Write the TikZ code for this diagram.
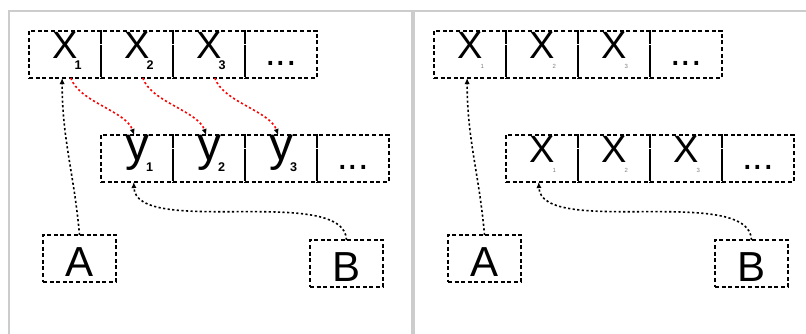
\documentclass[tikz,border=0pt]{standalone}
\usepackage{fontspec}
\setmainfont{Liberation Sans}
\usetikzlibrary{arrows.meta,positioning}
% small index set under the right foot of a letter
\newcommand{\idx}[1]{\rlap{\kern-1.5pt\raisebox{-5.8pt}{\fontsize{6.3}{6.3}\selectfont\bfseries #1}}}
\newcommand{\fadeidx}[1]{\rlap{\kern-1pt\raisebox{-5pt}{\fontsize{3}{3}\selectfont\color{gray}#1}}}
\newcommand{\more}{\raisebox{-3.5pt}{...}}
\tikzset{
    %Define standard arrow tip
    >={Latex[length=3pt,width=2.6pt]},
    %Define style for boxes
    cell/.style={
           draw=black, line width=1pt,
           dash pattern=on 2pt off 1.3pt,
           minimum width=36pt,
           minimum height=23.5pt,
           inner sep=0pt, outer sep=0pt,
           text height=13.5pt, text depth=10pt,
           font=\fontsize{19}{19}\selectfont},
    ycell/.style={
           cell,
           text height=12.5pt, text depth=11pt,
           font=\fontsize{24}{24}\selectfont},
    tag/.style={
           cell,
           minimum width=36.5pt,
           text height=17.5pt, text depth=0pt,
           font=\fontsize{21}{21}\selectfont},
    frame/.style={
           draw=black!20, line width=0.85pt},
    % Define arrow style
    link/.style={
           ->,
           line width=0.8pt,
           dash pattern=on 1.1pt off 1.2pt},
    redlink/.style={
           -{Latex[black,length=3pt,width=2.6pt]},
           line width=0.8pt,
           draw=red,
           dash pattern=on 1.1pt off 1.2pt}
}
\begin{document}
\begin{tikzpicture}
  \useasboundingbox (0,0) rectangle (403pt,-166.5pt);
  \draw[frame] (4.5pt,-170pt) |- (206pt,-5.5pt) -- (206pt,-170pt);
  \draw[frame] (207pt,-170pt) |- (405pt,-5.5pt);

  \begin{scope}
  \node[cell] (l-x1) at (32.5pt,-27.25pt) {X\idx{1}};
  \node[cell, right=0pt of l-x1] (l-x2) {X\idx{2}};
  \node[cell, right=0pt of l-x2] (l-x3) {X\idx{3}};
  \node[cell, right=0pt of l-x3] (l-xd) {\more};
  \node[ycell, below right=28.5pt and 0pt of l-x1] (l-y1) {y\idx{1}};
  \node[ycell, right=0pt of l-y1] (l-y2) {y\idx{2}};
  \node[ycell, right=0pt of l-y2] (l-y3) {y\idx{3}};
  \node[cell, right=0pt of l-y3] (l-yd) {\more};
  \node[tag, below=78.5pt of l-x1, xshift=7.25pt] (l-a) {A};
  \node[tag, below=29pt of l-yd, xshift=-3.25pt] (l-b) {B};

  \path [link] (l-a.north)
    edge[out=95, in=-90] (l-x1.-97);
  \draw [link] (l-b.north)
    .. controls +(-1pt,28pt) and +(1pt,-28pt) .. (l-y1.-98);

  \foreach \i in {1,2,3}
    \draw [redlink] (l-x\i.-76)
      .. controls +(4pt,-12pt) and +(-4pt,12pt) .. (l-y\i.97);
  \end{scope}

  \begin{scope}
  \node[cell] (r-x1) at (235pt,-27.25pt) {X\fadeidx{1}};
  \node[cell, right=0pt of r-x1] (r-x2) {X\fadeidx{2}};
  \node[cell, right=0pt of r-x2] (r-x3) {X\fadeidx{3}};
  \node[cell, right=0pt of r-x3] (r-xd) {\more};
  \node[cell, below right=28.5pt and 0pt of r-x1] (r-y1) {X\fadeidx{1}};
  \node[cell, right=0pt of r-y1] (r-y2) {X\fadeidx{2}};
  \node[cell, right=0pt of r-y2] (r-y3) {X\fadeidx{3}};
  \node[cell, right=0pt of r-y3] (r-yd) {\more};
  \node[tag, below=78.5pt of r-x1, xshift=7.25pt] (r-a) {A};
  \node[tag, below=29pt of r-yd, xshift=-3.25pt] (r-b) {B};

  \path [link] (r-a.north)
    edge[out=95, in=-90] (r-x1.-97);
  \draw [link] (r-b.north)
    .. controls +(-1pt,28pt) and +(1pt,-28pt) .. (r-y1.-98);
  \end{scope}
\end{tikzpicture}
\end{document}
